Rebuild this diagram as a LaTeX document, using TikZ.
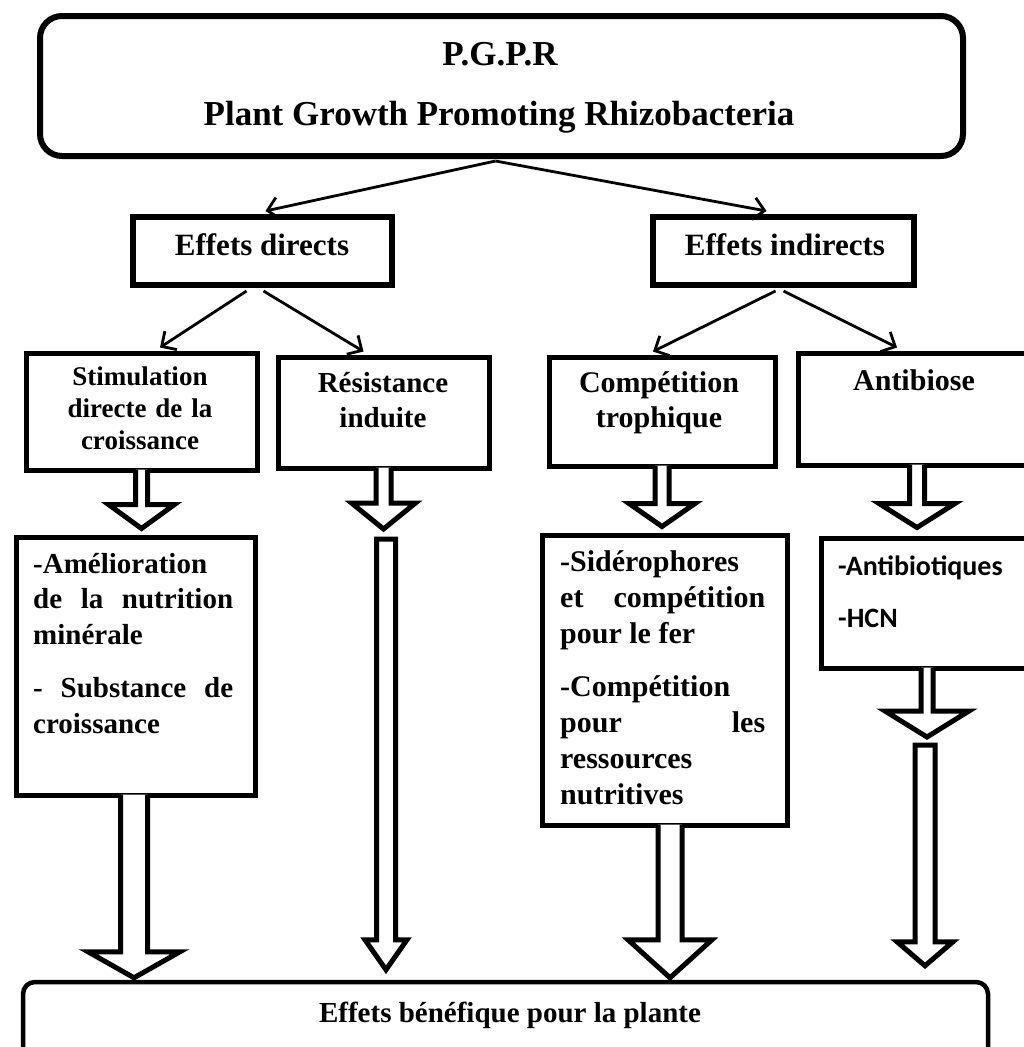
\documentclass[tikz,border=0pt]{standalone}
\usepackage{fontspec}
\setmainfont{Liberation Serif}
\newfontfamily\calfont{Carlito}
\usetikzlibrary{arrows.meta,calc,fit}
\hyphenpenalty=10000
\exhyphenpenalty=10000
\tolerance=10000
\hbadness=10000
\tikzset{
  box/.style={draw, line width=5pt, inner sep=0pt, fill=white},
  boxthick/.style={box, line width=6pt},
  rbox/.style={draw, line width=6pt, inner sep=0pt, rounded corners=22pt, fill=white},
  conn/.style={line width=2.8pt, -{Straight Barb[length=11pt,width=22pt]}},
  blk/.style={line width=5pt, line join=miter, miter limit=10},
  lbl/.style={inner sep=0pt, font=\bfseries},
}
% open-top block arrow: #1 start, #2 tip (y used), #3 shaft half, #4 head half, #5 head length
\newcommand\openarrow[5]{%
  \path[fill=white] let \p1=#1, \p2=#2 in
    (\x1-#3,\y1) -- (\x1-#3,\y2+#5) -- (\x1-#4,\y2+#5) -- (\x1,\y2)
    -- (\x1+#4,\y2+#5) -- (\x1+#3,\y2+#5) -- (\x1+#3,\y1) -- cycle;
  \draw[blk] let \p1=#1, \p2=#2 in
    (\x1-#3,\y1) -- (\x1-#3,\y2+#5) -- (\x1-#4,\y2+#5) -- (\x1,\y2)
    -- (\x1+#4,\y2+#5) -- (\x1+#3,\y2+#5) -- (\x1+#3,\y1);
}
\newcommand\closedarrow[5]{%
  \draw[blk, fill=white] let \p1=#1, \p2=#2 in
    (\x1-#3,\y1) -- (\x1-#3,\y2+#5) -- (\x1-#4,\y2+#5) -- (\x1,\y2)
    -- (\x1+#4,\y2+#5) -- (\x1+#3,\y2+#5) -- (\x1+#3,\y1) -- cycle;
}
\begin{document}
\begin{tikzpicture}[x=1pt,y=-1pt]
\clip (0,0) rectangle (1024,1047);
\fill[white] (0,0) rectangle (1024,1047);
% boxes
\node[rbox, fit={(40,16) (963,156)}] (pgpr) {};
\node[boxthick, fit={(133,217) (392,285)}] (dir) {};
\node[boxthick, fit={(653,217) (914,285)}] (ind) {};
\node[box, fit={(26,353) (257,470)}] (stim) {};
\node[box, fit={(278,357) (489,468)}] (res) {};
\node[box, fit={(549,357) (775,466)}] (comp) {};
\node[box, fit={(798,353) (1040,465)}] (anti) {};
\node[box, fit={(16,537) (255,795)}] (amel) {};
\node[box, fit={(542,535) (787,825)}] (sid) {};
\node[box, fit={(821,538) (1040,668)}] (antib) {};
\node[draw, line width=4.5pt, inner sep=0pt, rounded corners=12pt, fill=white, fit={(23,982) (988,1075)}] (ben) {};
\coordinate (rs) at (386,539);
\coordinate (as) at (925,745);
% thin connectors
\draw[conn] ($(pgpr.south)+(-6,2)$) -- ($(dir.north)+(3,-3)$);
\draw[conn] ($(pgpr.south)+(-6,2)$) -- ($(ind.north)+(-17,-3)$);
\draw[conn] ($(dir.south)+(-16,3)$) -- ($(stim.north)+(18.5,-3)$);
\draw[conn] ($(dir.south)+(1,3)$) -- ($(res.north)+(-20,-3)$);
\draw[conn] ($(ind.south)+(-8,3)$) -- ($(comp.north)+(-9,-3)$);
\draw[conn] ($(ind.south)+(0,3)$) -- ($(anti.north)+(-22,-3)$);
% block arrows
\openarrow{($(stim.south)+(0,-3)$)}{($(amel.north)+(0,-6)$)}{6pt}{33pt}{24pt}
\openarrow{($(res.south)+(0,-3)$)}{($(rs)+(0,-10)$)}{7.5pt}{32pt}{26pt}
\closedarrow{(rs)}{($(ben.north)+(0,-10)$)}{9.5pt}{21pt}{30pt}
\openarrow{($(comp.south)+(0,-3)$)}{($(sid.north)+(0,-6)$)}{7pt}{33pt}{23pt}
\openarrow{($(sid.south)+(5.5,-3)$)}{($(ben.north)+(0,-2)$)}{12pt}{42pt}{38pt}
\openarrow{($(anti.south)+(-2,-3)$)}{($(antib.north)+(0,-8)$)}{7.5pt}{38pt}{24pt}
\openarrow{($(antib.south)+(-3.5,-3)$)}{($(as)+(0,-8)$)}{6pt}{42pt}{26pt}
\closedarrow{(as)}{($(ben.north)+(0,-14)$)}{10pt}{28pt}{24pt}
\openarrow{($(amel.south)+(-1.5,-3)$)}{($(ben.north)+(0,-2)$)}{13.5pt}{46pt}{26pt}
% texts
\node[lbl, anchor=base, font={\bfseries\fontsize{35}{42}\selectfont}] (tA) at (500,65) {P.G.P.R};
\node[lbl, anchor=base, font={\bfseries\fontsize{35}{42}\selectfont}] (tB) at (499,125) {Plant Growth Promoting Rhizobacteria};
\node[lbl, anchor=base, font={\bfseries\fontsize{31}{36}\selectfont}] (tDir) at (262,255) {Effets directs};
\node[lbl, anchor=base, font={\bfseries\fontsize{31}{36}\selectfont}] (tInd) at (785,255) {Effets indirects};
\node[lbl, anchor=base, text width=230pt, align=center, font={\bfseries\fontsize{27}{32}\selectfont}] (tStim) at (140,385) {Stimulation\\directe de la\\croissance};
\node[lbl, anchor=base, text width=210pt, align=center, font={\bfseries\fontsize{29}{35}\selectfont}] (tRes) at (383,392) {Résistance\\induite};
\node[lbl, anchor=base, text width=220pt, align=center, font={\bfseries\fontsize{30}{35}\selectfont}] (tComp) at (659,392) {Compétition\\trophique};
\node[lbl, anchor=base, font={\bfseries\fontsize{30}{35}\selectfont}] (tAnti) at (914,390) {Antibiose};
\node[lbl, anchor=base west, text width=200pt, align=justify, font={\bfseries\fontsize{29}{35.5}\selectfont}] (tAmel) at (33,573) {-Amélioration\\ de la nutrition\linebreak minérale\\[18pt] - Substance de\linebreak croissance};
\node[lbl, anchor=base west, text width=205pt, align=justify, font={\bfseries\fontsize{30}{36}\selectfont}] (tSid) at (560,571) {-Sidérophores\\ et compétition\linebreak pour le fer\\[17pt] -Compétition\\ pour les\linebreak ressources\\ nutritives};
\node[lbl, anchor=base west, text width=185pt, align=left, font={\calfont\bfseries\fontsize{28}{34}\selectfont}] (tAntib) at (838,575) {-Antibiotiques\\[18pt]-HCN};
\node[lbl, anchor=base, font={\bfseries\fontsize{29}{35}\selectfont}] (tBen) at (510,1022) {Effets bénéfique pour la plante};
\end{tikzpicture}
\end{document}
